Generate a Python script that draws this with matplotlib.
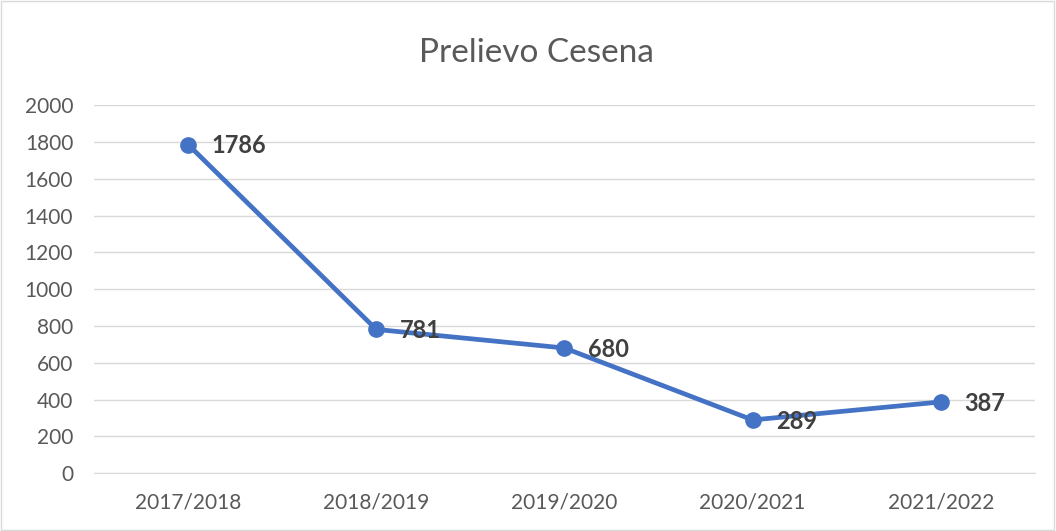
import matplotlib.pyplot as plt
from matplotlib.patches import Rectangle

# Data
seasons = ["2017/2018", "2018/2019", "2019/2020", "2020/2021", "2021/2022"]
prelievo = [1786, 781, 680, 289, 387]
y_ticks = [0, 200, 400, 600, 800, 1000, 1200, 1400, 1600, 1800, 2000]

plt.rcParams['font.family'] = ['Lato', 'DejaVu Sans']

fig = plt.figure(figsize=(10.56, 5.31), dpi=100)
ax = fig.add_axes([0.089, 0.109, 0.891, 0.693])

x = list(range(len(seasons)))
ax.plot(x, prelievo, color='#4472C4', linewidth=3.4, marker='o', markersize=11, zorder=3)

for xi, v in zip(x, prelievo):
    ax.annotate(str(v), (xi, v), xytext=(17, -1), textcoords='offset points',
                ha='left', va='center', fontsize=17, fontweight='bold', color='#404040')

ax.set_xlim(-0.5, len(seasons) - 0.5)
ax.set_ylim(0, 2000)
ax.set_yticks(y_ticks)
ax.set_xticks(x)
ax.set_xticklabels(seasons)
ax.tick_params(axis='both', length=0, labelsize=15, colors='#595959')
ax.tick_params(axis='y', pad=15)
ax.tick_params(axis='x', pad=14)
ax.grid(axis='y', color='#D9D9D9', linewidth=1)
ax.set_axisbelow(True)
for s in ['top', 'left', 'right']:
    ax.spines[s].set_visible(False)
ax.spines['bottom'].set_color('#D9D9D9')

fig.text(0.508, 0.9, "Prelievo Cesena", ha='center', va='center', fontsize=24, color='#595959')

fig.patches.append(Rectangle((0.001, 0.002), 0.997, 0.996, transform=fig.transFigure,
                             fill=False, edgecolor='#D9D9D9', linewidth=1))

fig.savefig('out.png', dpi=100)
